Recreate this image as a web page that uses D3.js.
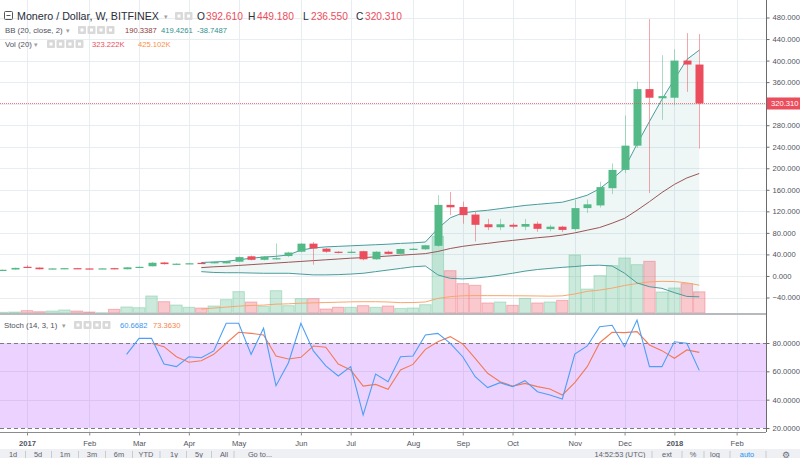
<!DOCTYPE html>
<html>
<head>
<meta charset="utf-8">
<script src="https://cdn.jsdelivr.net/npm/d3@7"></script>
<style>
  body { margin: 0; background: #fff; }
  svg { display: block; font-family: "Liberation Sans", Arial, sans-serif; }
</style>
</head>
<body>
<div id="chart"></div>
<script>
// Weekly XMR/USD bars, the first one is the week of 19 Dec 2016
var firstWeek = new Date(2016, 11, 19);

var open  = [11, 12, 17, 15.5, 12.5, 14, 14.5, 14, 13.7, 14.5, 12.5, 16, 18, 25, 22, 23, 24.3, 23.5, 23.5, 26.5,
             36.5, 30, 31.5, 37, 45, 60, 50.7, 45, 43.5, 46, 31, 45, 41, 49.5, 49.5, 56, 132, 128, 114, 96,
             90.5, 95, 91.5, 97, 87, 91.5, 87, 126, 131, 163, 197, 242, 347, 330, 331, 400, 392.61];
var high  = [12, 15.5, 20, 16, 14.5, 15, 15, 14.5, 14.8, 15, 16.5, 17.5, 26, 26, 23.5, 24, 25, 26.5, 28, 36,
             38, 37, 60.5, 45, 61, 63, 52, 46, 49, 47, 46, 47, 51, 52, 58, 150, 156, 138, 119, 106,
             106, 98, 106, 101, 95, 93, 141, 142, 175, 209, 298, 361, 477, 410, 421, 451, 449.18];
var low   = [10, 11.5, 15.5, 12, 12, 13.5, 13.5, 13.2, 13.3, 12.2, 12.3, 15.5, 17.5, 21, 21.5, 22.5, 23, 23, 23, 26,
             29, 29, 30, 35, 44, 21, 43, 42, 42, 29, 30, 40, 40, 48, 48, 54, 113, 97, 64, 85,
             85, 88, 85, 82, 83, 81.5, 84, 117, 127, 152, 191, 238, 154, 290, 317, 342, 236.55];
var close = [11.5, 15, 16, 12.5, 14, 14.5, 14, 13.7, 14.1, 12.5, 16, 17, 24.5, 22, 22.8, 23.6, 23.7, 26, 27.5, 35,
             30, 36, 33, 43.5, 60, 51, 45, 43.5, 45, 31, 45, 41, 50, 50.5, 57, 132, 127.5, 113, 95, 90.5,
             96, 91.5, 96.5, 87.5, 91.5, 85.5, 126, 133, 165, 197, 242, 347, 331, 334, 400, 392.61, 320.31];
// volume in thousands
var volume = [10, 15, 36, 20, 30, 46, 30, 15, 5, 56, 92, 81, 260, 173, 122, 87, 76, 107, 204, 326,
              168, 102, 341, 112, 219, 219, 61, 87, 87, 112, 87, 107, 70, 76, 127, 1170, 646, 448, 423, 153,
              168, 117, 224, 153, 168, 193, 885, 366, 570, 723, 840, 738, 789, 321, 382, 448, 323.222];

// indicators start at bar 16 (BB, Vol MA), 10 (%K), 12 (%D)
var indStart = 16;
var bbUpper = [25, 26, 27, 30, 33, 35, 36.5, 39, 48, 52, 54, 55, 56, 57, 58, 59, 60.5, 61.5, 63, 88,
               108, 117, 120, 122, 125, 128, 131, 133, 135, 137, 143, 150, 162, 180, 200, 245, 287, 328, 365, 402, 419.43];
var bbBasis = [15.5, 17, 18, 19.5, 21, 22.5, 24, 25.5, 27, 28.5, 30, 31.5, 33, 34, 35.5, 37, 38.5, 40, 41.5, 45.5,
               51, 55, 58, 60.5, 63.5, 66, 68.5, 71, 73, 76, 80, 85, 90, 98, 107, 122, 138, 155, 170, 182, 190.34];
var bbLower = [8, 6.5, 6, 6, 5.5, 5, 5, 5, 3.5, 2, 2, 2.5, 3.5, 5, 8, 11, 14, 17, 18.5, 2,
               -4.5, -5.5, -4, -1.5, 1.5, 5, 9, 12, 14, 16, 17.5, 19.5, 20, 18.5, 5, -13, -20, -23, -31, -38, -38.75];
var volMA   = [60, 75, 90, 105, 115, 120, 135, 140, 150, 155, 160, 165, 170, 172, 172, 168, 158, 160, 168, 222,
               250, 263, 266, 265, 265, 263, 262, 260, 257, 262, 290, 330, 350, 380, 420, 450, 475, 484, 480, 460, 425.1];

var kStart = 10, dStart = 12;
var stochK = [72, 83.3, 83.3, 65.2, 63.3, 70.3, 69.6, 74.4, 93.9, 93.9, 72, 90.4, 49.9, 66.1, 93.9, 74.4, 63.8, 56.7,
              63.3, 29.2, 58.1, 52.7, 70.3, 70.8, 85.6, 86.8, 79.8, 70.3, 56.2, 48.5, 52, 49.2, 53.4, 45.6, 43.3,
              40.5, 72.2, 77.9, 91.5, 92.5, 77.4, 96.2, 63.3, 63.3, 80.9, 79.8, 60.67];
var stochD = [79.8, 77.4, 70.3, 66.4, 67.5, 72, 79.8, 87.6, 86.8, 85.6, 70.8, 68.7, 69.9, 77.9, 77, 65.2, 60.9,
              49.6, 50.8, 47.3, 60.9, 64.9, 75.5, 80.9, 84.5, 79.3, 69.2, 58.6, 52.7, 49.6, 51.5, 49.2, 47.5,
              43.3, 52, 63.3, 80.2, 87.6, 87.3, 88, 78.6, 74.6, 69.2, 75.1, 73.36];

var priceTicks = [-40, 0, 40, 80, 120, 160, 200, 240, 280, 320, 360, 400, 440, 480];
var stochTicks = [20, 40, 60, 80];
var lastPrice = 320.31;

// layout
var w = 800, h = 458;
var plotW = 766;       // right price axis starts here
var mainH = 313;       // bottom of the price pane
var stochTop = 315, stochBottom = 432;

var upCol = "#53b987", downCol = "#eb4d5c";
var bandCol = "#4a9c9c", basisCol = "#9b5656";

var svg = d3.select("#chart").append("svg")
    .attr("width", w)
    .attr("height", h);

svg.append("rect").attr("width", w).attr("height", h).attr("fill", "#fff");

// scales
var x = d3.scaleLinear().domain([-0.17, 61.36]).range([0, plotW]);
var y = d3.scaleLinear().domain([-40, 480]).range([297.5, 17.5]);
var vy = d3.scaleLinear().domain([0, 1000]).range([mainH, mainH - 65.5]);
var sy = d3.scaleLinear().domain([20, 80]).range([428, 343]);

var bars = open.map(function(o, j) {
  return { j: j, o: o, h: high[j], l: low[j], c: close[j], v: volume[j], up: close[j] >= o };
});

function series(arr, start) {
  return arr.map(function(v, k) { return { j: start + k, v: v }; });
}
var bb = bbUpper.map(function(u, k) {
  return { j: indStart + k, u: u, m: bbBasis[k], l: bbLower[k] };
});

// month ticks: first weekly bar of each month
var monthTicks = [];
for (var j = 1; j <= 61; j++) {
  var d = d3.timeWeek.offset(firstWeek, j), p = d3.timeWeek.offset(firstWeek, j - 1);
  if (d.getMonth() !== p.getMonth()) {
    monthTicks.push({ j: j, label: d.getMonth() === 0 ? d3.timeFormat("%Y")(d) : d3.timeFormat("%b")(d), year: d.getMonth() === 0 });
  }
}

// clips
var defs = svg.append("defs");
defs.append("clipPath").attr("id", "mainClip").append("rect")
    .attr("x", 0).attr("y", 0).attr("width", plotW).attr("height", mainH);
defs.append("clipPath").attr("id", "stochClip").append("rect")
    .attr("x", 0).attr("y", stochTop).attr("width", plotW).attr("height", stochBottom - stochTop);

// grid
var grid = svg.append("g").attr("stroke", "#e8edf1").attr("stroke-width", 1);
grid.selectAll(".hg").data(priceTicks).enter().append("line")
    .attr("x1", 0).attr("x2", plotW)
    .attr("y1", function(d) { return Math.round(y(d)) + 0.5; })
    .attr("y2", function(d) { return Math.round(y(d)) + 0.5; });
grid.selectAll(".sg").data([40, 60]).enter().append("line")
    .attr("x1", 0).attr("x2", plotW)
    .attr("y1", function(d) { return Math.round(sy(d)) + 0.5; })
    .attr("y2", function(d) { return Math.round(sy(d)) + 0.5; });
grid.selectAll(".vg").data(monthTicks).enter().append("line")
    .attr("x1", function(d) { return Math.round(x(d.j)) + 0.5; })
    .attr("x2", function(d) { return Math.round(x(d.j)) + 0.5; })
    .attr("y1", 0).attr("y2", mainH);
grid.selectAll(".vg2").data(monthTicks).enter().append("line")
    .attr("x1", function(d) { return Math.round(x(d.j)) + 0.5; })
    .attr("x2", function(d) { return Math.round(x(d.j)) + 0.5; })
    .attr("y1", stochTop).attr("y2", stochBottom);

// stochastic band background
svg.append("rect")
    .attr("x", 0).attr("width", plotW)
    .attr("y", sy(80)).attr("height", sy(20) - sy(80))
    .attr("fill", "rgba(153,21,255,0.19)");

var main = svg.append("g").attr("clip-path", "url(#mainClip)");

// Bollinger fill
main.append("path")
    .datum(bb)
    .attr("fill", "rgba(19,132,132,0.07)")
    .attr("d", d3.area()
        .x(function(d) { return x(d.j); })
        .y0(function(d) { return y(d.l); })
        .y1(function(d) { return y(d.u); }));

// volume
var bw = x(1) - x(0);
main.selectAll(".vol").data(bars).enter().append("rect")
    .attr("x", function(d) { return x(d.j) - bw / 2 + 0.5; })
    .attr("width", bw - 1)
    .attr("y", function(d) { return vy(d.v); })
    .attr("height", function(d) { return mainH - vy(d.v); })
    .attr("fill", function(d) { return d.up ? "rgba(83,185,135,0.3)" : "rgba(235,77,92,0.3)"; })
    .attr("stroke", function(d) { return d.up ? "rgba(83,185,135,0.35)" : "rgba(235,77,92,0.35)"; });

main.append("path")
    .datum(series(volMA, indStart))
    .attr("fill", "none")
    .attr("stroke", "#f9a66c")
    .attr("stroke-width", 1)
    .attr("d", d3.line().x(function(d) { return x(d.j); }).y(function(d) { return vy(d.v); }));

// Bollinger lines
[["u", bandCol], ["l", bandCol], ["m", basisCol]].forEach(function(s) {
  main.append("path")
      .datum(bb)
      .attr("fill", "none")
      .attr("stroke", s[1])
      .attr("stroke-width", 1)
      .attr("d", d3.line().x(function(d) { return x(d.j); }).y(function(d) { return y(d[s[0]]); }));
});

// candles
main.selectAll(".wick").data(bars).enter().append("line")
    .attr("x1", function(d) { return Math.round(x(d.j)) + 0.5; })
    .attr("x2", function(d) { return Math.round(x(d.j)) + 0.5; })
    .attr("y1", function(d) { return y(d.h); })
    .attr("y2", function(d) { return y(d.l); })
    .attr("stroke", function(d) { return d.up ? upCol : downCol; })
    .attr("stroke-opacity", 0.5);
main.selectAll(".body").data(bars).enter().append("rect")
    .attr("x", function(d) { return Math.round(x(d.j)) - 3.5; })
    .attr("width", 8)
    .attr("y", function(d) { return y(Math.max(d.o, d.c)); })
    .attr("height", function(d) { return Math.max(1.2, Math.abs(y(d.o) - y(d.c))); })
    .attr("fill", function(d) { return d.up ? upCol : downCol; });

// last price line
main.append("line")
    .attr("x1", 0).attr("x2", plotW)
    .attr("y1", Math.round(y(lastPrice)) + 0.5).attr("y2", Math.round(y(lastPrice)) + 0.5)
    .attr("stroke", downCol).attr("stroke-opacity", 0.75)
    .attr("stroke-dasharray", "1,1");

// stochastic
svg.selectAll(".slev").data([80, 20]).enter().append("line")
    .attr("x1", 0).attr("x2", plotW)
    .attr("y1", function(d) { return Math.round(sy(d)) + 0.5; })
    .attr("y2", function(d) { return Math.round(sy(d)) + 0.5; })
    .attr("stroke", "#7b7b80")
    .attr("stroke-dasharray", "4,3");

var stochG = svg.append("g").attr("clip-path", "url(#stochClip)");
var sLine = d3.line().x(function(d) { return x(d.j); }).y(function(d) { return sy(d.v); });
stochG.append("path").datum(series(stochD, dStart))
    .attr("fill", "none").attr("stroke", "#f27a55").attr("stroke-width", 1.1).attr("d", sLine);
stochG.append("path").datum(series(stochK, kStart))
    .attr("fill", "none").attr("stroke", "#4c9ff5").attr("stroke-width", 1.1).attr("d", sLine);

// frame lines
svg.append("line").attr("x1", 0).attr("x2", plotW).attr("y1", 314).attr("y2", 314)
    .attr("stroke", "#9ea2a9").attr("stroke-width", 1.6);
svg.append("line").attr("x1", 0).attr("x2", plotW).attr("y1", stochBottom + 0.5).attr("y2", stochBottom + 0.5)
    .attr("stroke", "#8c8c8c");
svg.append("line").attr("x1", plotW + 0.5).attr("x2", plotW + 0.5).attr("y1", 0).attr("y2", stochBottom)
    .attr("stroke", "#6b6b6b");

// price axis
var yAxis = svg.append("g")
    .attr("transform", "translate(" + (plotW + 0.5) + ",0)")
    .call(d3.axisRight(y).tickValues(priceTicks).tickSize(3).tickPadding(3).tickFormat(d3.format(".3f")));
var sAxis = svg.append("g")
    .attr("transform", "translate(" + (plotW + 0.5) + ",0)")
    .call(d3.axisRight(sy).tickValues(stochTicks).tickSize(3).tickPadding(3).tickFormat(d3.format(".4f")));
[yAxis, sAxis].forEach(function(g) {
  g.select(".domain").remove();
  g.selectAll("line").attr("stroke", "#6b6b6b");
  g.selectAll("text").attr("font-size", 7.6).attr("fill", "#50535e").attr("font-family", "Liberation Sans, Arial, sans-serif");
});

// time axis
var xAxis = svg.append("g")
    .attr("transform", "translate(0," + (stochBottom + 0.5) + ")")
    .call(d3.axisBottom(x).tickValues(monthTicks.map(function(d) { return d.j; }))
        .tickSize(3).tickPadding(5)
        .tickFormat(function(v) { return monthTicks.find(function(m) { return m.j === v; }).label; }));
xAxis.select(".domain").remove();
xAxis.selectAll("line").attr("stroke", "#8c8c8c");
xAxis.selectAll("text")
    .attr("font-size", 7.6).attr("fill", "#50535e").attr("font-family", "Liberation Sans, Arial, sans-serif")
    .attr("font-weight", function(v) { return monthTicks.find(function(m) { return m.j === v; }).year ? "bold" : "normal"; });

// last price label
var ly = y(lastPrice);
svg.append("rect").attr("x", plotW + 1).attr("y", ly - 6).attr("width", w - plotW - 1).attr("height", 12)
    .attr("fill", downCol);
svg.append("text").attr("x", plotW + 5).attr("y", ly + 3)
    .attr("font-size", 7.6).attr("fill", "#fff").text(d3.format(".3f")(lastPrice));

// legends
function icons(x0, n, yc) {
  for (var k = 0; k < n; k++) {
    svg.append("rect").attr("x", x0 + k * 9.5).attr("y", yc - 4).attr("width", 8).attr("height", 8)
        .attr("rx", 1).attr("fill", "#d9d9d9");
    svg.append("rect").attr("x", x0 + k * 9.5 + 2.5).attr("y", yc - 1.5).attr("width", 3).attr("height", 3)
        .attr("fill", "#fff");
  }
}
function txt(xp, yp, s, col, size, weight) {
  return svg.append("text").attr("x", xp).attr("y", yp).attr("font-size", size || 7.8)
      .attr("fill", col).attr("font-weight", weight || "normal").text(s);
}

// row 1
svg.append("rect").attr("x", 4.5).attr("y", 11.5).attr("width", 8).attr("height", 8)
    .attr("fill", "none").attr("stroke", "#555").attr("rx", 1);
svg.append("line").attr("x1", 6.5).attr("x2", 10.5).attr("y1", 15.5).attr("y2", 15.5).attr("stroke", "#555");
txt(17, 19.5, "Monero / Dollar, W, BITFINEX", "#2a2e39", 10.7);
txt(164, 19, "▾", "#a0a0a0", 7);
icons(175, 2, 16);
txt(197, 19.5, "O", "#2a2e39", 10.2);
txt(206, 19.5, "392.610", downCol, 10.2);
txt(248, 19.5, "H", "#2a2e39", 10.2);
txt(257, 19.5, "449.180", downCol, 10.2);
txt(303, 19.5, "L", "#2a2e39", 10.2);
txt(311, 19.5, "236.550", downCol, 10.2);
txt(356, 19.5, "C", "#2a2e39", 10.2);
txt(365, 19.5, "320.310", downCol, 10.2);

// row 2
txt(5, 33, "BB (20, close, 2)", "#50535e");
txt(66, 33, "▾", "#a0a0a0", 6.5);
icons(78, 4, 30);
txt(125, 33, "190.3387", "#8e3a3a", 7.6);
txt(161, 33, "419.4261", "#2f8f8f", 7.6);
txt(197, 33, "-38.7487", "#2f8f8f", 7.6);

// row 3
txt(5, 47, "Vol (20)", "#50535e");
txt(34, 47, "▾", "#a0a0a0", 6.5);
icons(47, 4, 44);
txt(92, 47, "323.222K", downCol, 7.6);
txt(138, 47, "425.102K", "#f7924a", 7.6);

// stoch legend
txt(4, 328, "Stoch (14, 3, 1)", "#50535e");
txt(62, 328, "▾", "#a0a0a0", 6.5);
icons(74, 4, 325);
txt(120, 328, "60.6682", "#3a95f0", 7.6);
txt(153, 328, "73.3630", "#f7864a", 7.6);

// bottom toolbar
svg.append("rect").attr("x", 0).attr("y", 449).attr("width", w).attr("height", 9).attr("fill", "#eef0f3");
var tools = [["1d", 13], ["5d", 38], ["1m", 65], ["3m", 92], ["6m", 119], ["YTD", 146], ["1y", 174], ["5y", 199], ["All", 224], ["Go to...", 260]];
tools.forEach(function(t, k) {
  svg.append("text").attr("x", t[1]).attr("y", 457).attr("text-anchor", "middle")
      .attr("font-size", 7.4).attr("fill", "#5d606b").text(t[0]);
  if (k < tools.length - 1) {
    svg.append("line").attr("x1", (t[1] + tools[k + 1][1]) / 2 + (k === 8 ? -8 : 0)).attr("x2", (t[1] + tools[k + 1][1]) / 2 + (k === 8 ? -8 : 0))
        .attr("y1", 451).attr("y2", 458).attr("stroke", "#c8cbd0");
  }
});
var rtools = [["14:52:53 (UTC)", 620, "#5d606b"], ["ext", 667, "#5d606b"], ["%", 693, "#5d606b"], ["log", 715, "#5d606b"], ["auto", 747, "#2196f3"]];
rtools.forEach(function(t, k) {
  svg.append("text").attr("x", t[1]).attr("y", 457).attr("text-anchor", "middle")
      .attr("font-size", 7.4).attr("fill", t[2]).text(t[0]);
});
[652, 682, 704, 730, 766].forEach(function(sx) {
  svg.append("line").attr("x1", sx).attr("x2", sx).attr("y1", 451).attr("y2", 458).attr("stroke", "#c8cbd0");
});
svg.append("text").attr("x", 786).attr("y", 457.5).attr("text-anchor", "middle")
    .attr("font-size", 8.5).attr("fill", "#6b6e78").text("⚙");
</script>
</body>
</html>
